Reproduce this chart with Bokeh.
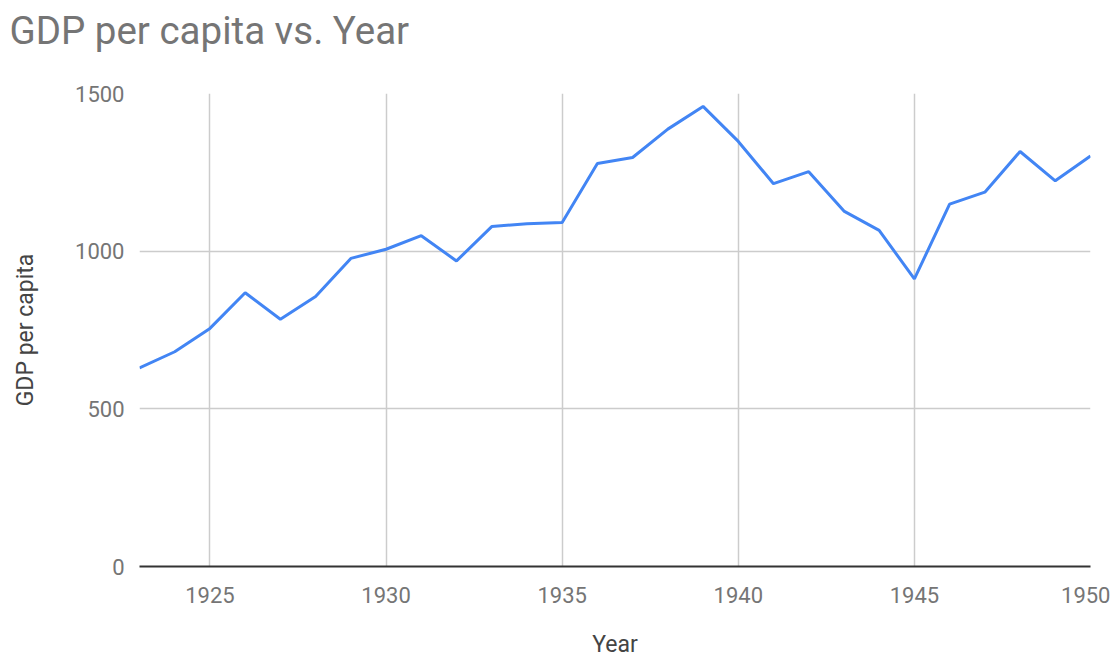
from bokeh.plotting import figure
from bokeh.models import FixedTicker, Range1d, Title
from bokeh.embed import file_html
from bokeh.resources import INLINE

years = [1923, 1924, 1925, 1926, 1927, 1928, 1929, 1930, 1931, 1932, 1933, 1934, 1935, 1936,
         1937, 1938, 1939, 1940, 1941, 1942, 1943, 1944, 1945, 1946, 1947, 1948, 1949, 1950]
gdp = [630, 681, 755, 868, 784, 856, 977, 1006, 1049, 969, 1078, 1087, 1091, 1278,
       1297, 1387, 1459, 1348, 1214, 1252, 1127, 1066, 912, 1149, 1187, 1316, 1223, 1302]
x_ticks = [1925, 1930, 1935, 1940, 1945, 1950]
y_ticks = [0, 500, 1000, 1500]
title_text = "GDP per capita vs. Year"

FONT = "Roboto"
GREY = "#757575"

W, H = 1110, 660
LEFT, RIGHT, TOP, BOTTOM = 139, 20, 93, 94

p = figure(width=W, height=H, output_backend="svg", toolbar_location=None,
           x_range=Range1d(years[0], years[-1]), y_range=Range1d(0, 1500),
           min_border_left=LEFT, min_border_right=RIGHT,
           min_border_top=TOP, min_border_bottom=BOTTOM)

p.outline_line_color = None
p.background_fill_color = "white"
p.border_fill_color = "white"

p.line(years, gdp, line_color="#4285f4", line_width=3)

# spacer panel next to the frame, then the real title above it
spacer = Title(text=" ", text_font_size="1px", standoff=36)
p.add_layout(spacer, "above")
main_title = Title(text=title_text, text_font=FONT, text_font_size="38.5px",
                   text_font_style="normal", text_color=GREY, align="left",
                   vertical_align="top", offset=-130, standoff=0)
p.add_layout(main_title, "above")

for ax in (p.xaxis[0], p.yaxis[0]):
    ax.major_tick_line_color = None
    ax.minor_tick_line_color = None
    ax.major_label_text_font = FONT
    ax.major_label_text_font_size = "22px"
    ax.major_label_text_color = GREY
    ax.axis_label_text_font = FONT
    ax.axis_label_text_font_size = "23px"
    ax.axis_label_text_font_style = "normal"
    ax.axis_label_text_color = "#444444"

p.xaxis.ticker = FixedTicker(ticks=x_ticks)
p.yaxis.ticker = FixedTicker(ticks=y_ticks)
p.xaxis.axis_label = "Year"
p.yaxis.axis_label = "GDP per capita"
p.xaxis.axis_line_color = "#333333"
p.xaxis.axis_line_width = 2
p.yaxis.axis_line_color = None
p.xaxis.major_label_standoff = 14
p.yaxis.major_label_standoff = 9
p.xaxis.axis_label_standoff = 25
p.yaxis.axis_label_standoff = 33

p.xgrid.grid_line_color = "#cccccc"
p.ygrid.grid_line_color = "#cccccc"
p.xgrid.grid_line_width = 1.5
p.ygrid.grid_line_width = 1.5

open("out.html", "w").write(file_html(p, INLINE))
